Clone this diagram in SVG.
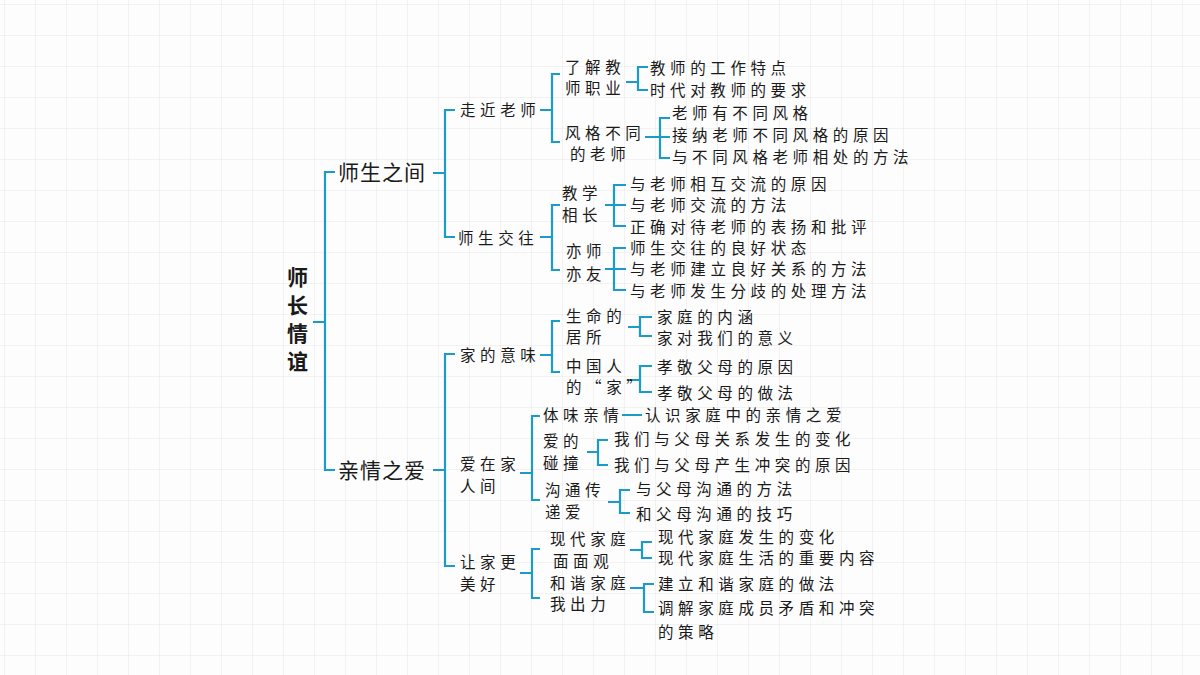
<svg xmlns="http://www.w3.org/2000/svg" width="1200" height="675" viewBox="0 0 1200 675">
<defs>
<pattern id="g" width="31" height="31" patternUnits="userSpaceOnUse" x="5" y="5"><path d="M31 0V31H0" fill="none" stroke="#e6e6e6" stroke-width="1"/></pattern>
<style>
text{font-family:"Noto Sans CJK SC","Noto Sans",sans-serif;fill:#1a1a1a;font-size:15.5px;letter-spacing:4.6px}
.l1{font-size:21px;letter-spacing:1px}
.r{font-size:21px;font-weight:bold;letter-spacing:0}
#c path{fill:none;stroke:#1a9bc8;stroke-width:2.2}
</style>
</defs>
<rect width="1200" height="675" fill="#fdfdfd"/>
<rect width="1200" height="675" fill="url(#g)"/>
<g id="c">
<path d="M313 322H325M335 172H325V470H335"/>
<path d="M433 173H445M455 110H445V237H455M433 470H445M455 354H445V566H455"/>
<path d="M540 110H552M560 74H552V142H560M540 237H552M560 205H552V270H560"/>
<path d="M626 82H638M648 67H638V90H648M645 137H670M670 118H660V158H670"/>
<path d="M605 205H626M626 185H614V226H626M605 269H626M626 248H614V290H626"/>
<path d="M540 355H552M560 321H552V372H560M628 327H640M652 317H640V336H652M628 380H640M652 366H640V392H652"/>
<path d="M520 473H532M540 416H532V500H540M622 415H642M587 452H598M608 440H598V465H608M608 502H620M630 490H620V513H630"/>
<path d="M520 573H532M540 549H532V598H540M630 550H642M652 542H642V558H652M630 588H644M654 584H644V612H654"/>
</g>
<g id="root"><text class="r" x="287" y="285">师</text><text class="r" x="287" y="313">长</text><text class="r" x="287" y="341">情</text><text class="r" x="287" y="369">谊</text></g>
<g id="n1"><text class="l1" x="338" y="180">师生之间</text></g>
<g id="n2"><text class="l1" x="338" y="478">亲情之爱</text></g>
<g id="a1"><text x="460" y="116">走近老师</text></g>
<g id="a11"><text x="565" y="73">了解教</text><text x="565" y="94">师职业</text></g>
<g id="a11l"><text x="650" y="74">教师的工作特点</text><text x="650" y="96">时代对教师的要求</text></g>
<g id="a12"><text x="565" y="139">风格不同</text><text x="570" y="160">的老师</text></g>
<g id="a12l"><text x="672" y="119">老师有不同风格</text><text x="672" y="141">接纳老师不同风格的原因</text><text x="672" y="163">与不同风格老师相处的方法</text></g>
<g id="a2"><text x="458" y="244">师生交往</text></g>
<g id="a21"><text x="562" y="199">教学</text><text x="562" y="221">相长</text></g>
<g id="a21l"><text x="630" y="190">与老师相互交流的原因</text><text x="630" y="211">与老师交流的方法</text><text x="630" y="233">正确对待老师的表扬和批评</text></g>
<g id="a22"><text x="566" y="257">亦师</text><text x="566" y="280">亦友</text></g>
<g id="a22l"><text x="630" y="254">师生交往的良好状态</text><text x="630" y="275">与老师建立良好关系的方法</text><text x="630" y="297">与老师发生分歧的处理方法</text></g>
<g id="b1"><text x="460" y="361">家的意味</text></g>
<g id="b11"><text x="566" y="322">生命的</text><text x="566" y="343">居所</text></g>
<g id="b11l"><text x="657" y="323">家庭的内涵</text><text x="657" y="344">家对我们的意义</text></g>
<g id="b12"><text x="566" y="372">中国人</text><text x="566" y="393" letter-spacing="1">的“家”</text></g>
<g id="b12l"><text x="657" y="373">孝敬父母的原因</text><text x="657" y="399">孝敬父母的做法</text></g>
<g id="b2"><text x="460" y="470">爱在家</text><text x="460" y="492">人间</text></g>
<g id="b21"><text x="543" y="421">体味亲情</text><text x="645" y="421">认识家庭中的亲情之爱</text></g>
<g id="b22"><text x="543" y="447">爱的</text><text x="543" y="469">碰撞</text></g>
<g id="b22l"><text x="614" y="445">我们与父母关系发生的变化</text><text x="614" y="471">我们与父母产生冲突的原因</text></g>
<g id="b23"><text x="545" y="496">沟通传</text><text x="545" y="518">递爱</text></g>
<g id="b23l"><text x="636" y="495">与父母沟通的方法</text><text x="636" y="520">和父母沟通的技巧</text></g>
<g id="b3"><text x="460" y="568">让家更</text><text x="460" y="590">美好</text></g>
<g id="b31"><text x="550" y="545">现代家庭</text><text x="553" y="567">面面观</text></g>
<g id="b31l"><text x="658" y="543">现代家庭发生的变化</text><text x="658" y="564">现代家庭生活的重要内容</text></g>
<g id="b32"><text x="550" y="589">和谐家庭</text><text x="550" y="610">我出力</text></g>
<g id="b32l"><text x="658" y="590">建立和谐家庭的做法</text><text x="658" y="614">调解家庭成员矛盾和冲突</text><text x="658" y="638">的策略</text></g>
</svg>
